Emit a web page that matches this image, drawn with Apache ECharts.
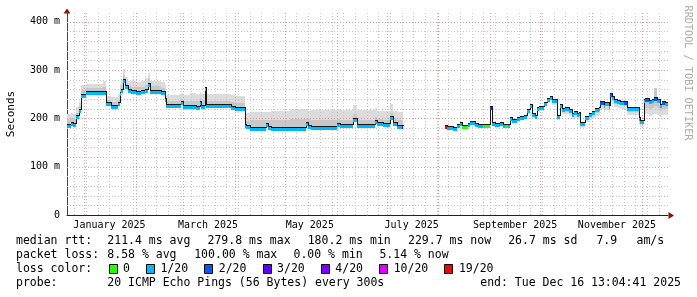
<!DOCTYPE html>
<html><head><meta charset="utf-8">
<script src="https://cdn.jsdelivr.net/npm/echarts@6/dist/echarts.min.js"></script>
<style>html,body{margin:0;padding:0;background:#fff}#c{width:697px;height:297px}</style>
</head><body><div id="c"></div>
<script>
// ---------------- data ----------------
const dates = ['2024-12-21','2024-12-24','2024-12-25','2024-12-27','2024-12-29','2024-12-30','2025-01-02','2025-01-12','2025-01-14','2025-01-17','2025-01-21','2025-01-22','2025-01-23','2025-01-24','2025-01-25','2025-01-27','2025-01-29','2025-02-01','2025-02-04','2025-02-06','2025-02-08','2025-02-09','2025-02-16','2025-02-18','2025-02-19','2025-02-28','2025-03-01','2025-03-05','2025-03-09','2025-03-11','2025-03-12','2025-03-14','2025-03-15','2025-03-30','2025-04-01','2025-04-07','2025-04-08','2025-04-10','2025-04-20','2025-04-21','2025-04-23','2025-05-04','2025-05-14','2025-05-15','2025-05-17','2025-06-01','2025-06-03','2025-06-11','2025-06-13','2025-06-24','2025-06-25','2025-06-29','2025-07-03','2025-07-05','2025-07-07','2025-07-10','2025-07-11',
'2025-08-05','2025-08-06','2025-08-10','2025-08-12','2025-08-14','2025-08-15','2025-08-19','2025-08-20','2025-08-23','2025-08-25','2025-08-28','2025-09-01','2025-09-02','2025-09-04','2025-09-07','2025-09-09','2025-09-10','2025-09-12','2025-09-13','2025-09-14','2025-09-17','2025-09-19','2025-09-21','2025-09-23','2025-09-25','2025-09-26','2025-09-28','2025-09-29','2025-09-30','2025-10-03','2025-10-05','2025-10-07','2025-10-08','2025-10-11','2025-10-13','2025-10-14','2025-10-16','2025-10-18','2025-10-20','2025-10-21','2025-10-23','2025-10-24','2025-10-25','2025-10-28','2025-10-30','2025-11-01','2025-11-03','2025-11-05','2025-11-06','2025-11-08','2025-11-09','2025-11-11','2025-11-12','2025-11-13','2025-11-14','2025-11-16','2025-11-18','2025-11-20','2025-11-22','2025-11-27','2025-11-29','2025-11-30','2025-12-02','2025-12-03','2025-12-05','2025-12-07','2025-12-08','2025-12-10','2025-12-12','2025-12-13','2025-12-15'];

// median rtt in ms (null = no data)
const median = [186,191,187.5,205,218,248,254,254,231,225,232,253,258,279,266,258,256,254,256,258,272,256,253.6,241,227,233,225,225,224,233,226,262,227,224,221,186,184.6,180.5,187.5,182.6,180.5,180.5,190.8,184.6,182.6,189,186,198,186,194,189.5,188,202,190.8,184.6,184.6,null,
184.6,182.6,180.5,186,189.5,184.6,188,191.6,187.5,186,186,224,189.5,187.5,189.5,186,186,186,200,196.4,201,203,205.5,217,227.4,208,205.3,220.5,224,231,241,244.6,237.7,205,227,220,220.5,217,210,213.6,208,212,189.5,203,208,213.6,218.5,220.5,234,227.4,232,226,249.5,244.6,237.7,235.6,234,234,220.5,221,200,194.3,237.7,239.8,235.6,237.7,242.6,237.7,227.4,233,232];

// packet loss (pings lost out of 20)
const loss = [1,1,1,1,1,1,1,1,1,1,1,1,1,1,1,1,1,1,1,1,1,1,1,1,1,1,1,1,1,1,1,1,1,1,1,1,1,1,1,1,1,1,1,1,1,1,1,1,1,1,1,1,1,1,1,3,null,
19,1,1,1,1,0,1,1,1,1,0,3,1,1,1,1,0,1,1,1,1,1,1,1,1,1,1,1,1,1,1,1,1,1,1,1,1,1,1,1,1,1,1,1,1,1,1,1,2,1,1,1,2,1,1,1,1,2,1,1,1,1,1,2,1,1,2,1,1,2,1];

// smoke: full spread of the 20 pings and the denser core
const smokeLo = [184,189,185.5,203,216,246,252,252,229,223,230,251,256,277,264,256,254,252,254,256,270,254,251.6,239,225,231,223,223,222,231,224,224,225,222,219,184,182.6,178.5,185.5,180.6,178.5,178.5,188.8,182.6,180.6,187,184,196,184,192,187.5,186,200,188.8,182.6,182.6,null,
183,181,179,184,188,183,186,190,186,184,184,222,188,186,188,184,184,184,194,190,195,197,199,210,220,201,198,213,216,223,232,236,228,196,216,208,208,204,198,200,196,199,180,192,196,200,205,207,220,213,218,212,234,230,223,221,220,219,206,206,188,183,205,208,205,207,210,207,203,206,206];
const coreLo = [184,189,185.5,203,216,246,252,252,229,223,230,251,256,277,264,256,254,252,254,256,270,254,251.6,239,225,231,223,223,222,231,224,224,225,222,219,184,182.6,178.5,185.5,180.6,178.5,178.5,188.8,182.6,180.6,187,184,196,184,192,187.5,186,200,188.8,182.6,182.6,null,
183,181,179,184,188,183,186,190,186,184,184,222,188,186,188,184,184,184,196,193,198,200,202,213,224,205,202,217,220,227,237,240,233,200,222,214,214,211,204,207,202,206,185,198,202,207,212,214,227,220,225,219,242,237,230,228,227,226,213,213,194,189,220,222,219,221,225,221,215,220,219];
const coreHi = [198,200,198,212,226,259,262,264,238,233,240,262,268,290,273,266,265,264,265,268,282,266,263,252,236,241,235,236,235,242,236,240,236,234,232,196,195,196,197,197,197,198,200,198,197,199,197,208,197,203,198,197,212,198,196,196,null,
185,183,181,186,190,185,188,192,188,186,186,224,190,188,190,186,186,186,200,196,201,203,205,217,227,208,205,220,224,231,241,245,238,205,227,220,220,217,210,213,208,212,189,203,208,213,218,220,234,227,232,226,249,245,238,236,234,234,220,221,200,194,238,240,236,238,262,238,227,233,232];
const smokeHi = [210,211,210,224,233,270,272,278,247,244,250,272,280,303,285,278,277,276,278,283,293,277,276,270,249,252,248,252,250,255,250,267,250,248,247,211,212,213,214,214,216,219,220,216,218,219,217,227,218,222,216,216,229,216,214,214,null,
186,184,182,187,191,186,189,193,189,187,187,225,191,189,191,187,187,187,201,198,203,205,207,219,229,210,207,222,226,233,243,247,240,207,229,222,222,219,212,215,210,214,191,205,210,215,220,222,236,229,234,228,252,247,240,238,236,236,222,223,202,196,240,242,238,240,263,240,230,235,234];

const endTime = '2025-12-16 13:04:41';
const spanDays = 360;
const yMax = 418;
const yTickStep = 100;
const yMinorStep = 20;
const firstGridThursday = '2024-12-26';
const monthLabels = ['January 2025','March 2025','May 2025','July 2025','September 2025','November 2025'];
const monthLabelDates = ['2025-01-16','2025-03-16','2025-05-16','2025-07-16','2025-09-16','2025-11-16'];
const lossLevels = [0,1,2,3,4,10,19];
const lossLabels = ['0','1/20','2/20','3/20','4/20','10/20','19/20'];
const lossColors = ['#26ff00','#00b8ff','#0059ff','#5e00ff','#7e00ff','#dd00ff','#ff0000'];
const rttStats = ['median rtt:','211.4 ms avg','279.8 ms max','180.2 ms min','229.7 ms now','26.7 ms sd','7.9','am/s'];
const lossStats = ['packet loss:','8.58 % avg','100.00 % max','0.00 % min','5.14 % now'];
const probeStats = ['probe:','20 ICMP Echo Pings (56 Bytes) every 300s'];
const endLabel = 'end: Tue Dec 16 13:04:41 2025';
const watermark = 'RRDTOOL / TOBI OETIKER';
const yTitle = 'Seconds';

// ---------------- helpers ----------------
function ts(s){ const p = s.split(/[- :]/).map(Number); return new Date(p[0],p[1]-1,p[2],p[3]||0,p[4]||0,p[5]||0).getTime(); }
const DAY = 864e5;
const tEnd = ts(endTime);
const tStart = tEnd - spanDays*DAY;
const T = dates.map(ts);
function segEnd(i){ return i+1 < T.length ? T[i+1] : tEnd; }
function lossColor(l){ const k = lossLevels.indexOf(l); return k < 0 ? lossColors[1] : lossColors[k]; }

const segs = [];
for (let i=0;i<T.length;i++){
  if (median[i] == null) continue;
  const nv = (i+1<T.length && median[i+1]!=null) ? median[i+1] : NaN;
  segs.push([T[i], segEnd(i), median[i], loss[i], smokeLo[i], smokeHi[i], coreLo[i], coreHi[i], nv]);
}

const vgrid = [];
const monthStarts = [];
for (let m=0;m<12;m++){ const t = new Date(2025,m,1).getTime(); if (t>tStart && t<tEnd) monthStarts.push(t); }
for (let t=ts(firstGridThursday); t<tEnd; t+=7*DAY){
  if (monthStarts.some(ms=>Math.abs(ms-t)<3600e3)) continue;
  vgrid.push([t, 0]);
}
monthStarts.forEach(t=>vgrid.push([t, 1]));
const hgrid = [];
for (let v=yMinorStep; v<yMax; v+=yMinorStep) hgrid.push([tStart, v, v % yTickStep === 0 ? 1 : 0]);

function box(api, t0, t1, v0, v1){
  const a = api.coord([t0, v1]), b = api.coord([t1, v0]);
  const x = Math.round(a[0]), x2 = Math.round(b[0]);
  const y = Math.round(a[1]), y2 = Math.round(b[1]);
  return {x:x, y:y, width:x2-x, height:y2-y};
}

const G = {left:67, top:13, width:601, height:202};
const MONO = '"DejaVu Sans Mono", monospace';
const LF = '11.5px ' + MONO;
const MINOR = '#c8c8c8', MAJOR = '#e29c9c';

// ---------------- chart ----------------
const chart = echarts.init(document.getElementById('c'), null, {renderer:'canvas', width:697, height:297});

const graphics = [];
function txt(x, y, s, align){ graphics.push({type:'text', x:x, y:y, silent:true, style:{text:s, font:LF, fill:'#000', align:align||'left', verticalAlign:'middle'}}); }
const rowY = [241, 255, 269, 283];
const rttX = [16, 107.3, 207.5, 307.7, 408, 508.2, 596.4, 636.5];
rttStats.forEach((s,i)=>txt(rttX[i], rowY[0], s));
const lossX = [16, 107.3, 194.2, 293.5, 379.4];
lossStats.forEach((s,i)=>txt(lossX[i], rowY[1], s));
txt(16, rowY[2], 'loss color:');
let bx = 108.5;
const CW = 6.95;
lossLabels.forEach((lab,i)=>{
  graphics.push({type:'rect', silent:true, shape:{x:Math.round(bx)+0.5, y:264.5, width:8, height:9}, style:{fill:lossColors[i], stroke:'#000', lineWidth:1}});
  txt(bx+14.5, rowY[2], lab);
  bx = bx + 14.5 + lab.length*CW + 16;
});
txt(16, rowY[3], probeStats[0]);
txt(107.3, rowY[3], probeStats[1]);
txt(681, rowY[3], endLabel, 'right');
graphics.push({type:'text', x:11, y:114, rotation:Math.PI/2, silent:true, style:{text:yTitle, font:'11px '+MONO, fill:'#000', align:'center', verticalAlign:'middle'}});
graphics.push({type:'text', x:688, y:73, rotation:-Math.PI/2, silent:true, style:{text:watermark, font:'10.2px '+MONO, fill:'#ababab', align:'center', verticalAlign:'middle'}});
const AR = '#8b1010';
graphics.push({type:'polygon', silent:true, shape:{points:[[63.5,13.5],[70.5,13.5],[67,8.5]]}, style:{fill:AR}});
graphics.push({type:'polygon', silent:true, shape:{points:[[668.5,212],[668.5,219],[674,215.5]]}, style:{fill:AR}});

chart.setOption({
  animation:false,
  backgroundColor:'#ffffff',
  grid:{left:G.left, top:G.top, width:G.width, height:G.height, containLabel:false},
  xAxis:{type:'value', min:tStart, max:tEnd, axisLine:{show:true, onZero:false, lineStyle:{color:'#222', width:1}}, axisTick:{show:false}, axisLabel:{show:false}, splitLine:{show:false}},
  yAxis:{type:'value', min:0, max:yMax, interval:yTickStep,
    axisLine:{show:true, lineStyle:{color:'#444', width:1}}, axisTick:{show:false}, splitLine:{show:false},
    axisLabel:{margin:7, color:'#000', fontFamily:MONO, fontSize:10, showMaxLabel:false, formatter:v=> v===0 ? '0' : (v + ' m')}},
  graphic:graphics,
  series:[
    {type:'custom', name:'smoke', z:2, clip:true, silent:true, data:segs,
     renderItem:(p, api)=>({type:'group', children:[
        {type:'rect', shape:box(api, api.value(0), api.value(1), api.value(4), api.value(5)), style:{fill:'#dcdcdc'}},
        {type:'rect', shape:box(api, api.value(0), api.value(1), api.value(6), api.value(7)), style:{fill:'#c8c8c8'}}
     ]})},
    {type:'custom', name:'vgrid', z:3, clip:true, silent:true, data:vgrid,
     renderItem:(p, api)=>{
       const a = api.coord([api.value(0), 0]), b = api.coord([api.value(0), yMax]);
       const x = Math.round(a[0]) + 0.5;
       const major = api.value(1) === 1;
       return {type:'line', shape:{x1:x, y1:a[1], x2:x, y2:b[1]}, style:{stroke: major ? MAJOR : MINOR, lineWidth:1, lineDash:[1,2]}};
     }},
    {type:'custom', name:'hgrid', z:3, clip:true, silent:true, data:hgrid,
     renderItem:(p, api)=>{
       const a = api.coord([tStart, api.value(1)]), b = api.coord([tEnd, api.value(1)]);
       const y = Math.round(a[1]) + 0.5;
       const major = api.value(2) === 1;
       return {type:'line', shape:{x1:a[0], y1:y, x2:b[0], y2:y}, style:{stroke: major ? MAJOR : MINOR, lineWidth:1, lineDash:[1,2]}};
     }},
    {type:'custom', name:'median', z:5, clip:true, silent:true, data:segs,
     renderItem:(p, api)=>{
       const t0 = api.value(0), t1 = api.value(1), v = api.value(2), nv = api.value(8);
       const a = api.coord([t0, v]), b = api.coord([t1, v]);
       const x = Math.round(a[0]), x2 = Math.round(b[0]), yr = Math.round(a[1]);
       const ch = [
         {type:'rect', shape:{x:x, y:yr-1, width:x2-x, height:4}, style:{fill:lossColor(api.value(3))}},
         {type:'line', shape:{x1:x, y1:yr-0.5, x2:x2+1, y2:yr-0.5}, style:{stroke:'#161616', lineWidth:1}}
       ];
       if (!isNaN(nv)) {
         const yn = Math.round(api.coord([t1, nv])[1]);
         ch.push({type:'line', shape:{x1:x2+0.5, y1:yr-1, x2:x2+0.5, y2:yn}, style:{stroke:'#161616', lineWidth:1}});
       }
       return {type:'group', children:ch};
     }},
    {type:'custom', name:'monthLabels', z:6, clip:false, silent:true,
     data:monthLabelDates.map((d,i)=>[ts(d), 0, i]),
     renderItem:(p, api)=>{
       const a = api.coord([api.value(0), 0]);
       return {type:'text', x:a[0], y:a[1]+10.5, style:{text:monthLabels[api.value(2)], font:'10px '+MONO, fill:'#000', align:'center', verticalAlign:'middle'}};
     }}
  ]
});
</script></body></html>
